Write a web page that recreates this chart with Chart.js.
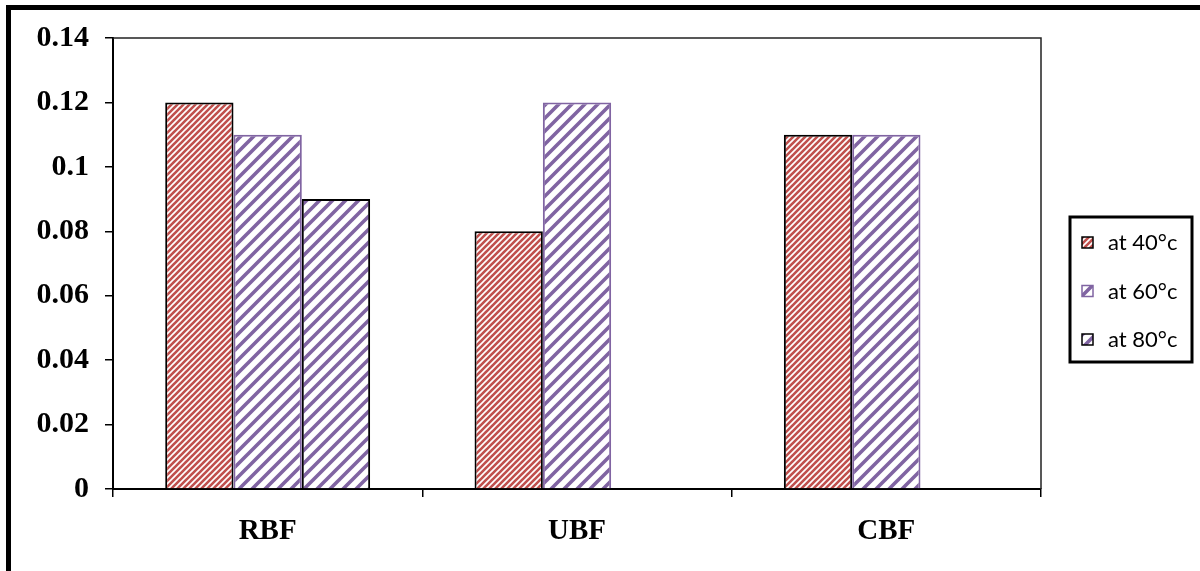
<!DOCTYPE html>
<html>
<head>
<meta charset="utf-8">
<style>
  html, body { margin: 0; padding: 0; background: #fff; }
  #wrap { position: relative; width: 1200px; height: 571px; }
  canvas { display: block; }
</style>
<script src="https://cdn.jsdelivr.net/npm/chart.js@4/dist/chart.umd.min.js"></script>
</head>
<body>
<div id="wrap"><canvas id="c" width="1200" height="571"></canvas></div>
<script>
// Filter types along the x axis
const categories = ['RBF', 'UBF', 'CBF'];
// Series by temperature (null = no bar measured)
const seriesLabels = ['at 40°c', 'at 60°c', 'at 80°c'];
const at40 = [0.12, 0.08, 0.11];
const at60 = [0.11, 0.12, 0.11];
const at80 = [0.09, null, null];
// Y axis tick labels
const yTickLabels = ['0', '0.02', '0.04', '0.06', '0.08', '0.1', '0.12', '0.14'];

const RED = '#C0504D';
const PURPLE = '#8064A2';

// Diagonal "/" hatch built on a small tile
function hatch(color, period, lineW) {
  const t = document.createElement('canvas');
  t.width = period; t.height = period;
  const g = t.getContext('2d');
  g.fillStyle = '#fff';
  g.fillRect(0, 0, period, period);
  g.strokeStyle = color;
  g.lineWidth = lineW;
  g.lineCap = 'square';
  for (let k = -1; k <= 1; k++) {
    g.beginPath();
    g.moveTo(k * period, period);
    g.lineTo(k * period + period, 0);
    g.stroke();
  }
  return document.getElementById('c').getContext('2d').createPattern(t, 'repeat');
}

const redHatch = hatch(RED, 6, 2.6);
const purpleHatch = hatch(PURPLE, 13, 3.6);

const CHART_LEFT = 113, CHART_RIGHT = 1041, CHART_TOP = 38, CHART_BOTTOM = 489;

const framePlugin = {
  id: 'frame',
  afterDraw(chart) {
    const ctx = chart.ctx;
    const a = chart.chartArea;
    ctx.save();
    // top and right edges of the plot box
    ctx.strokeStyle = '#222';
    ctx.lineWidth = 1.5;
    ctx.beginPath();
    ctx.moveTo(a.left, a.top);
    ctx.lineTo(a.right, a.top);
    ctx.lineTo(a.right, a.bottom);
    ctx.stroke();
    // outer frame (top and left)
    ctx.fillStyle = '#000';
    ctx.fillRect(6, 5, chart.width - 6, 5);
    ctx.fillRect(6, 5, 5, chart.height - 5);

    // legend
    const bx = 1070, by = 217, bw = 122, bh = 145;
    ctx.lineWidth = 3;
    ctx.strokeStyle = '#000';
    ctx.strokeRect(bx, by, bw, bh);
    const ds = chart.data.datasets;
    ctx.font = '22px Lato, "Open Sans", sans-serif';
    ctx.textBaseline = 'middle';
    ctx.textAlign = 'left';
    ds.forEach((d, i) => {
      const cy = 243 + i * 48.5;
      ctx.fillStyle = d.backgroundColor;
      ctx.fillRect(1082, cy - 6, 11, 11);
      ctx.lineWidth = 1.5;
      ctx.strokeStyle = d.borderColor;
      ctx.strokeRect(1082, cy - 6, 11, 11);
      ctx.fillStyle = '#000';
      ctx.fillText(d.label, 1108, cy);
    });
    ctx.restore();
  }
};

new Chart(document.getElementById('c'), {
  type: 'bar',
  data: {
    labels: categories,
    datasets: [
      { label: seriesLabels[0], data: at40, backgroundColor: redHatch, borderColor: '#000', borderWidth: 2 },
      { label: seriesLabels[1], data: at60, backgroundColor: purpleHatch, borderColor: PURPLE, borderWidth: 2 },
      { label: seriesLabels[2], data: at80, backgroundColor: purpleHatch, borderColor: '#000', borderWidth: 2 }
    ]
  },
  options: {
    responsive: false,
    animation: false,
    layout: { padding: { left: 0, top: CHART_TOP, right: 1200 - CHART_RIGHT, bottom: 0 } },
    datasets: { bar: { categoryPercentage: 0.6625, barPercentage: 1.0 } },
    plugins: { legend: { display: false }, tooltip: { enabled: false } },
    scales: {
      x: {
        grid: { display: true, drawOnChartArea: false, offset: true, tickLength: 8, color: '#000', lineWidth: 1.5 },
        border: { color: '#000', width: 2 },
        ticks: { color: '#000', padding: 17, font: { family: '"Liberation Serif", "Times New Roman", serif', size: 29, weight: 'bold' } },
        afterFit(s) { s.height = 571 - CHART_BOTTOM; }
      },
      y: {
        min: 0, max: 0.14,
        grid: { display: true, drawOnChartArea: false, tickLength: 8, color: '#000', lineWidth: 1.5 },
        border: { color: '#000', width: 2 },
        ticks: {
          stepSize: 0.02, color: '#000', padding: 16,
          font: { family: '"Liberation Serif", "Times New Roman", serif', size: 30, weight: 'bold' },
          callback: (v, i) => yTickLabels[i]
        },
        afterFit(s) { s.width = CHART_LEFT; }
      }
    }
  },
  plugins: [framePlugin]
});
</script>
</body>
</html>
